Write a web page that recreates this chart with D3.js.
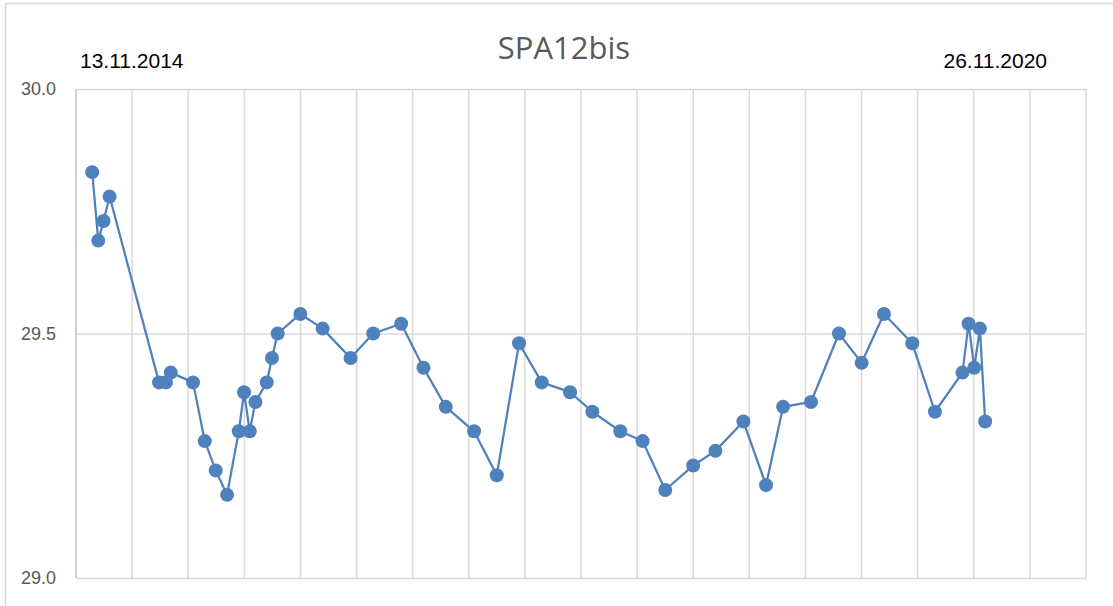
<!DOCTYPE html>
<html>
<head>
<meta charset="utf-8">
<script src="https://cdn.jsdelivr.net/npm/d3@7"></script>
<style>
  html, body { margin: 0; padding: 0; background: #fff; }
  svg { display: block; }
</style>
</head>
<body>
<svg id="chart" width="1113" height="606"></svg>
<script>
// Measurement dates (dd.mm.yyyy) and readings for SPA12bis
const dates = [
  "13.11.2014", "28.11.2014", "11.12.2014", "26.12.2014", "27.04.2015",
  "14.05.2015", "26.05.2015", "20.07.2015", "18.08.2015", "14.09.2015",
  "12.10.2015", "10.11.2015", "23.11.2015", "07.12.2015", "21.12.2015",
  "18.01.2016", "31.01.2016", "14.02.2016", "10.04.2016", "04.06.2016",
  "12.08.2016", "07.10.2016", "15.12.2016", "08.02.2017", "04.04.2017",
  "13.06.2017", "08.08.2017", "02.10.2017", "27.11.2017", "05.02.2018",
  "01.04.2018", "09.06.2018", "03.08.2018", "28.09.2018", "06.12.2018",
  "30.01.2019", "09.04.2019", "04.06.2019", "16.07.2019", "23.09.2019",
  "01.12.2019", "26.01.2020", "21.03.2020", "30.05.2020", "25.07.2020",
  "01.10.2020", "16.10.2020", "30.10.2020", "13.11.2020", "26.11.2020"
];
const values = [
  29.83, 29.69, 29.73, 29.78, 29.40,
  29.40, 29.42, 29.40, 29.28, 29.22,
  29.17, 29.30, 29.38, 29.30, 29.36,
  29.40, 29.45, 29.50, 29.54, 29.51,
  29.45, 29.50, 29.52, 29.43, 29.35,
  29.30, 29.21, 29.48, 29.40, 29.38,
  29.34, 29.30, 29.28, 29.18, 29.23,
  29.26, 29.32, 29.19, 29.35, 29.36,
  29.50, 29.44, 29.54, 29.48, 29.34,
  29.42, 29.52, 29.43, 29.51, 29.32
];
const yTicks = [29.0, 29.5, 30.0];
const xDomainDates = ["04.10.2014", "02.08.2021"];
const xGridIntervals = 18;
const title = "SPA12bis";
const startLabel = "13.11.2014";
const endLabel = "26.11.2020";

const parse = d3.utcParse("%d.%m.%Y");
const data = dates.map((d, i) => ({ date: parse(d), value: values[i] }));

const svg = d3.select("#chart");
const margin = { left: 76, right: 27, top: 89, bottom: 28 };
const W = +svg.attr("width"), H = +svg.attr("height");
const plotW = W - margin.left - margin.right;
const plotH = H - margin.top - margin.bottom;

// outer chart frame
svg.append("rect")
  .attr("x", 5.5).attr("y", 3.5)
  .attr("width", 1130).attr("height", 640)
  .attr("fill", "#fff").attr("stroke", "#d9d9d9").attr("stroke-width", 1.5);

const x = d3.scaleUtc()
  .domain(xDomainDates.map(parse))
  .range([margin.left, margin.left + plotW]);
const y = d3.scaleLinear()
  .domain([29.0, 30.0])
  .range([margin.top + plotH, margin.top]);

// vertical gridlines at evenly spaced dates
const [d0, d1] = x.domain();
const xGrid = d3.range(xGridIntervals + 1)
  .map(i => new Date(+d0 + (d1 - d0) * i / xGridIntervals));

const grid = svg.append("g");
grid.selectAll("line.v")
  .data(xGrid.slice(1))
  .join("line")
  .attr("class", "v")
  .attr("x1", d => x(d)).attr("x2", d => x(d))
  .attr("y1", y(30.0)).attr("y2", y(29.0))
  .attr("stroke", "#d9d9d9").attr("stroke-width", 1.5);

// horizontal gridlines
const yAxis = d3.axisLeft(y)
  .tickValues(yTicks)
  .tickFormat(d3.format(".1f"))
  .tickSize(-plotW)
  .tickPadding(20);
const gy = svg.append("g")
  .attr("transform", `translate(${margin.left},0)`)
  .call(yAxis);
gy.select(".domain").remove();
gy.selectAll(".tick line").attr("stroke", "#d9d9d9").attr("stroke-width", 1.5);
gy.selectAll(".tick text")
  .attr("fill", "#595959")
  .style("font-family", "'Liberation Sans', Arial, sans-serif")
  .style("font-size", "18px");

// left axis line
svg.append("line")
  .attr("x1", margin.left).attr("x2", margin.left)
  .attr("y1", y(30.0)).attr("y2", y(29.0))
  .attr("stroke", "#bfbfbf").attr("stroke-width", 1.5);

// series line and markers
const line = d3.line().x(d => x(d.date)).y(d => y(d.value));
svg.append("path")
  .datum(data)
  .attr("d", line)
  .attr("fill", "none")
  .attr("stroke", "#4f81bd")
  .attr("stroke-width", 2.25)
  .attr("stroke-linejoin", "round");

svg.append("g")
  .selectAll("circle")
  .data(data)
  .join("circle")
  .attr("cx", d => x(d.date))
  .attr("cy", d => y(d.value))
  .attr("r", 7)
  .attr("fill", "#4f81bd");

// title
svg.append("text")
  .attr("x", 564).attr("y", 59)
  .attr("text-anchor", "middle")
  .attr("fill", "#595959")
  .style("font-family", "'Open Sans', sans-serif")
  .style("font-size", "31px")
  .text(title);

// period labels
svg.append("text")
  .attr("x", 80).attr("y", 67.5)
  .attr("fill", "#000")
  .style("font-family", "'Liberation Sans', Arial, sans-serif")
  .style("font-size", "21px")
  .text(startLabel);
svg.append("text")
  .attr("x", 1047).attr("y", 67.5)
  .attr("text-anchor", "end")
  .attr("fill", "#000")
  .style("font-family", "'Liberation Sans', Arial, sans-serif")
  .style("font-size", "21px")
  .text(endLabel);
</script>
</body>
</html>
